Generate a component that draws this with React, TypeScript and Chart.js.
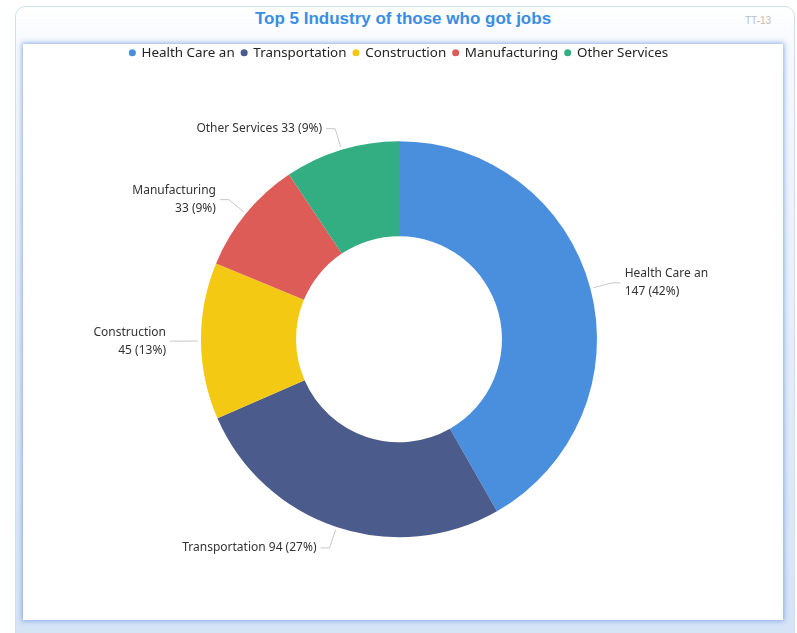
import React, { useEffect, useRef } from "react";
import { Chart, registerables } from "chart.js";

Chart.register(...registerables);

const categories = ["Health Care an", "Transportation", "Construction", "Manufacturing", "Other Services"];
const values = [147, 94, 45, 33, 33];
const colors = ["#4a8fde", "#4b5b8b", "#f3c913", "#dd5c57", "#33ae82"];
const wrapLabel = [true, false, true, true, false];
const titleText = "Top 5 Industry of those who got jobs";
const badgeText = "TT-13";

const FONT = "'Noto Sans', 'Open Sans', sans-serif";

const labelPlugin = {
  id: "outerLabels",
  afterDatasetsDraw(chart: any) {
    const ctx = chart.ctx;
    const meta = chart.getDatasetMeta(0);
    const data = chart.data.datasets[0].data as number[];
    const total = data.reduce((a, b) => a + b, 0);
    ctx.save();
    meta.data.forEach((arc: any, i: number) => {
      const { x, y, startAngle, endAngle, outerRadius } = arc.getProps(
        ["x", "y", "startAngle", "endAngle", "outerRadius"],
        true
      );
      const mid = (startAngle + endAngle) / 2;
      const c = Math.cos(mid);
      const s = Math.sin(mid);
      const x0 = x + c * (outerRadius + 3);
      const y0 = y + s * (outerRadius + 3);
      const x1 = x + c * (outerRadius + 22);
      const y1 = y + s * (outerRadius + 22);
      const dir = c >= 0 ? 1 : -1;
      const x2 = x1 + dir * 9;
      ctx.strokeStyle = "#c8c8c8";
      ctx.lineWidth = 1;
      ctx.beginPath();
      ctx.moveTo(x0, y0);
      ctx.lineTo(x1, y1);
      ctx.lineTo(x2, y1);
      ctx.stroke();
      const pct = Math.round((data[i] / total) * 100);
      const valueText = `${data[i]} (${pct}%)`;
      ctx.fillStyle = "#333333";
      ctx.font = `12px ${FONT}`;
      ctx.textAlign = dir > 0 ? "left" : "right";
      ctx.textBaseline = "middle";
      const tx = x2 + dir * 4;
      if (wrapLabel[i]) {
        ctx.fillText(chart.data.labels[i], tx, y1 - 9);
        ctx.fillText(valueText, tx, y1 + 9);
      } else {
        ctx.fillText(`${chart.data.labels[i]} ${valueText}`, tx, y1);
      }
    });
    ctx.restore();
  },
};

export default function App() {
  const ref = useRef<HTMLCanvasElement>(null);
  useEffect(() => {
    if (!ref.current) return;
    const chart = new Chart(ref.current, {
      type: "doughnut",
      data: {
        labels: categories,
        datasets: [
          {
            data: values,
            backgroundColor: colors,
            borderWidth: 0,
          },
        ],
      },
      options: {
        animation: false,
        responsive: false,
        cutout: "52%",
        radius: 198,
        layout: { padding: { left: 0, right: 12, top: 0, bottom: 11 } },
        plugins: {
          legend: {
            position: "top",
            labels: {
              usePointStyle: true,
              pointStyle: "circle",
              boxWidth: 5,
              boxHeight: 5,
              padding: 7,
              color: "#252423",
              font: { family: FONT, size: 13.4 },
            },
          },
          tooltip: { enabled: false },
        },
      },
      plugins: [labelPlugin],
    });
    return () => chart.destroy();
  }, []);

  return (
    <div style={{ position: "fixed", left: 0, top: 0, width: 797, height: 633, overflow: "hidden", background: "#ffffff" }}>
      <div
        style={{
          position: "absolute",
          left: 15,
          top: 6,
          width: 778,
          height: 640,
          borderRadius: 10,
          border: "1px solid #cfdff4",
          background: "linear-gradient(to bottom, #ffffff 0%, #f6f9fe 6%, #e2ebf8 60%, #d5e3f6 100%)",
        }}
      />
      <div
        style={{
          position: "absolute",
          left: 23,
          top: 44,
          width: 760,
          height: 576,
          background: "#ffffff",
          boxShadow: "0 0 5px 1px rgba(120,160,225,0.85)",
        }}
      />
      <div
        style={{
          position: "absolute",
          left: 0,
          width: 806,
          top: 9,
          textAlign: "center",
          font: "bold 17px 'Liberation Sans', Arial, sans-serif",
          color: "#3b8de3",
        }}
      >
        {titleText}
      </div>
      <div
        style={{
          position: "absolute",
          left: 745,
          top: 15,
          font: "10px 'Liberation Sans', Arial, sans-serif",
          color: "#bdbdbd",
        }}
      >
        {badgeText}
      </div>
      <canvas ref={ref} width={780} height={581} style={{ position: "absolute", left: 15, top: 39 }} />
    </div>
  );
}
